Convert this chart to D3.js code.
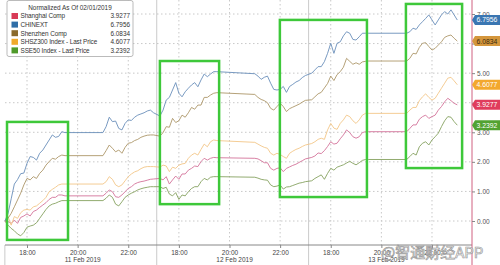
<!DOCTYPE html>
<html>
<head>
<meta charset="utf-8">
<script src="https://d3js.org/d3.v7.min.js"></script>
<style>
  body { margin: 0; background: #fff; }
  svg { display: block; font-family: "Liberation Sans", Arial, sans-serif; }
</style>
</head>
<body>
<script>
'use strict';

// series names + last values for the legend / tags
const seriesNames = ['Shanghai Comp', 'CHINEXT', 'Shenzhen Comp', 'SHSZ300 Index - Last Price', 'SSE50 Index - Last Price'];
const lastLabels = ['3.9277', '6.7956', '6.0834', '4.6077', '3.2392'];

// dates shown under the hour ticks
const days = ['11 Feb 2019', '12 Feb 2019', '13 Feb 2019'];
const tickHours = [18, 20, 22];
const yTicks = [0, 1, 2, 3, 4, 5, 6, 7];

// values: prev close, then per day 19 morning points + 17 afternoon points (7.5 min steps)
const shanghai = [0,
  -0.02, -0.08, 0.03, -0.08, 0.12, 0.17, 0.24, 0.17, 0.32, 0.37, 0.46, 0.54, 0.62, 0.73, 0.80, 0.80, 0.88, 0.88, 0.85,
  0.85, 0.94, 1.05, 0.99, 0.82, 0.80, 0.88, 0.99, 1.10, 1.16, 1.25, 1.30, 1.33, 1.35, 1.38, 1.41, 1.42,
  1.44, 1.39, 1.50, 1.25, 1.39, 1.52, 1.41, 1.59, 1.59, 1.72, 1.78, 1.86, 1.84, 2.01, 2.12, 2.06, 2.12, 2.15, 2.14,
  2.12, 2.10, 2.04, 1.97, 1.97, 1.78, 1.72, 1.78, 1.80, 1.67, 1.78, 1.83, 1.88, 1.92, 1.98, 2.04, 2.10,
  2.15, 2.20, 2.30, 2.28, 2.38, 2.52, 2.68, 2.60, 2.63, 2.78, 2.91, 3.08, 2.99, 2.85, 2.80, 2.85, 2.99, 3.02, 3.02,
  3.02, 3.13, 3.25, 3.25, 3.44, 3.53, 3.58, 3.47, 3.53, 3.58, 3.75, 3.87, 4.03, 4.15, 4.07, 3.98, 3.9277];

const chinext = [0,
  0.25, 0.75, 1.25, 1.40, 1.60, 1.62, 1.95, 2.18, 2.15, 2.06, 2.29, 2.40, 2.57, 2.74, 2.91, 2.83, 2.86, 3.02, 2.99,
  2.99, 3.19, 3.51, 3.36, 3.38, 3.13, 3.08, 3.30, 3.42, 3.40, 3.51, 3.58, 3.62, 3.66, 3.72, 3.75, 3.66,
  3.55, 3.75, 4.09, 4.18, 4.43, 4.68, 4.32, 4.20, 4.37, 4.49, 4.60, 4.68, 4.54, 4.77, 4.97, 4.88, 4.97, 5.05, 5.05,
  4.98, 4.90, 4.79, 4.86, 4.90, 4.66, 4.45, 4.43, 4.45, 4.55, 4.35, 4.55, 4.62, 4.70, 4.75, 4.85, 4.92,
  5.00, 5.11, 5.22, 5.22, 5.39, 5.67, 6.01, 5.67, 6.01, 6.06, 6.26, 6.40, 6.35, 6.14, 6.12, 6.23, 6.35, 6.35, 6.35,
  6.35, 6.40, 6.52, 6.48, 6.63, 6.74, 6.85, 6.97, 6.80, 6.63, 6.80, 6.97, 7.08, 7.00, 7.14, 6.97, 6.7956];

const shenzhen = [0,
  0.09, 0.26, 0.48, 0.71, 0.94, 1.22, 1.44, 1.39, 1.50, 1.44, 1.61, 1.72, 1.89, 2.01, 2.12, 2.09, 2.18, 2.23, 2.21,
  2.21, 2.38, 2.57, 2.46, 2.34, 2.40, 2.29, 2.49, 2.63, 2.65, 2.72, 2.76, 2.83, 2.87, 2.90, 2.91, 2.91,
  2.87, 2.99, 3.19, 3.17, 3.47, 3.33, 3.39, 3.58, 3.51, 3.66, 3.84, 3.78, 3.92, 3.92, 4.18, 4.18, 4.26, 4.32, 4.34,
  4.28, 4.18, 4.11, 4.07, 4.00, 3.81, 3.75, 3.87, 3.98, 3.87, 3.70, 3.80, 3.85, 3.90, 3.95, 4.02, 4.08,
  4.10, 4.20, 4.30, 4.35, 4.50, 4.65, 4.90, 4.75, 4.95, 5.05, 5.20, 5.50, 5.40, 5.30, 5.35, 5.30, 5.38, 5.40, 5.41,
  5.41, 5.50, 5.67, 5.65, 5.87, 6.01, 6.03, 5.90, 5.78, 5.84, 5.95, 6.06, 6.21, 6.26, 6.29, 6.18, 6.0834];

const shsz300 = [0,
  0.15, -0.14, 0.15, 0.09, 0.28, 0.37, 0.39, 0.37, 0.48, 0.51, 0.60, 0.69, 0.80, 0.99, 1.07, 1.14, 1.22, 1.25, 1.25,
  1.25, 1.33, 1.50, 1.41, 1.22, 1.16, 1.22, 1.36, 1.50, 1.59, 1.66, 1.70, 1.77, 1.82, 1.84, 1.84, 1.84,
  1.82, 1.89, 1.86, 1.67, 1.82, 1.78, 1.89, 1.93, 1.95, 2.12, 2.23, 2.29, 2.23, 2.42, 2.60, 2.51, 2.68, 2.74, 2.72,
  2.66, 2.60, 2.54, 2.49, 2.46, 2.29, 2.23, 2.29, 2.25, 2.18, 2.12, 2.29, 2.36, 2.42, 2.46, 2.52, 2.57,
  2.62, 2.68, 2.76, 2.80, 2.76, 3.08, 3.30, 3.14, 3.10, 3.30, 3.42, 3.58, 3.53, 3.39, 3.30, 3.42, 3.58, 3.64, 3.64,
  3.64, 3.75, 3.84, 3.84, 4.07, 4.20, 4.30, 4.18, 4.09, 4.15, 4.32, 4.49, 4.66, 4.83, 4.86, 4.74, 4.6077];

const sse50 = [0,
  -0.14, -0.25, -0.33, -0.44, -0.50, -0.39, -0.21, -0.17, -0.14, -0.06, 0.09, 0.24, 0.39, 0.51, 0.57, 0.60, 0.65, 0.69, 0.69,
  0.69, 0.77, 0.88, 0.80, 0.57, 0.51, 0.65, 0.80, 0.88, 0.94, 0.99, 1.05, 1.09, 1.12, 1.14, 1.16, 1.16,
  1.16, 1.10, 1.14, 0.91, 0.85, 0.96, 0.73, 0.88, 0.85, 0.99, 1.10, 1.16, 1.16, 1.33, 1.44, 1.39, 1.48, 1.50, 1.50,
  1.48, 1.45, 1.41, 1.39, 1.38, 1.22, 1.16, 1.18, 1.22, 1.08, 1.15, 1.16, 1.20, 1.24, 1.28, 1.30, 1.33,
  1.36, 1.44, 1.50, 1.56, 1.41, 1.61, 1.78, 1.72, 1.82, 1.86, 1.90, 1.96, 2.02, 1.95, 1.90, 1.97, 2.05, 2.08, 2.08,
  2.08, 2.18, 2.29, 2.23, 2.51, 2.63, 2.68, 2.57, 2.74, 2.85, 2.97, 3.19, 3.39, 3.53, 3.51, 3.36, 3.2392];

// green highlight boxes in data terms: [t0, t1, vTop, vBottom]
const boxes = [
  [0.21, 2.62, 3.35, -0.64],
  [6.25, 8.59, 5.41, 0.57],
  [10.99, 14.43, 6.80, 0.81],
  [15.97, 18.19, 7.34, 1.79]
];

(function() {

  let width = 500;
  let height = 265;
  let svg = "";

  const lineColors = ['#d4739a', '#6a8fba', '#ad9669', '#f3c688', '#86a160'];
  const swatchColors = ['#d83a56', '#2f6ea8', '#8a6a2c', '#f0aa2c', '#4f9a2a'];
  const tagColors = ['#e03c5c', '#3a76b2', '#d4963c', '#f3a82e', '#52a232'];
  const tagText = ['#fff', '#fff', '#3a2a10', '#fff', '#fff'];

  window.onload = function() {
    svg = d3.select('body').append('svg')
      .attr('width', width)
      .attr('height', height);
    makeChart();
  }

  // session times -> continuous trading hours (6 per day, 17:00 = 0)
  function buildTimes() {
    let times = [0.125];
    for (let d = 0; d < 3; d++) {
      for (let i = 0; i <= 18; i++) times.push(d * 6 + 17.25 + i * 0.125 - 17);
      for (let i = 0; i <= 16; i++) times.push(d * 6 + 21 + i * 0.125 - 17);
    }
    return times;
  }

  function makeChart() {
    let times = buildTimes();
    let allSeries = [shanghai, chinext, shenzhen, shsz300, sse50];
    let xScale = d3.scaleLinear().domain([0, 18]).range([1.7, 457.3]);
    let yScale = d3.scaleLinear().domain([0, 7]).range([221, 14]);
    let axisX = 472;
    let baseY = 245;

    // horizontal dotted grid
    svg.append('g').selectAll('line')
      .data(yTicks)
      .enter().append('line')
      .attr('x1', 5).attr('x2', axisX)
      .attr('y1', d => yScale(d)).attr('y2', d => yScale(d))
      .attr('stroke', '#c8c8c8')
      .attr('stroke-dasharray', '1.5,2.5');

    // vertical dotted grid at hour ticks
    let hourTicks = [];
    for (let d = 0; d < 3; d++) {
      tickHours.forEach(h => hourTicks.push({t: d * 6 + h - 17, label: h + ':00'}));
    }
    svg.append('g').selectAll('line')
      .data(hourTicks)
      .enter().append('line')
      .attr('x1', d => xScale(d.t)).attr('x2', d => xScale(d.t))
      .attr('y1', 0).attr('y2', baseY)
      .attr('stroke', '#c8c8c8')
      .attr('stroke-dasharray', '1.5,2.5');

    // day separators (between sessions)
    let seps = [0.125, 6.125, 12.125];
    svg.append('g').selectAll('line')
      .data(seps)
      .enter().append('line')
      .attr('x1', d => xScale(d)).attr('x2', d => xScale(d))
      .attr('y1', (d, i) => i == 0 ? baseY : 0).attr('y2', height)
      .attr('stroke', '#bcbcbc')
      .attr('stroke-width', 0.8);

    // x axis baseline + tick labels
    let xAxis = d3.axisBottom(xScale)
      .tickValues(hourTicks.map(d => d.t))
      .tickFormat((d, i) => hourTicks[i].label)
      .tickSize(3)
      .tickPadding(2);
    let gx = svg.append('g')
      .attr('transform', 'translate(0,' + baseY + ')')
      .call(xAxis);
    gx.select('.domain').attr('stroke', '#888').attr('d', 'M5,0H' + axisX);
    gx.selectAll('line').attr('stroke', '#888');
    gx.selectAll('text')
      .attr('fill', '#444')
      .style('font-size', '6.5px')
      .style('font-family', '"Liberation Sans", Arial, sans-serif');

    svg.append('g').selectAll('text')
      .data(days)
      .enter().append('text')
      .attr('x', (d, i) => xScale(i * 6 + 3.2))
      .attr('y', 262)
      .attr('text-anchor', 'middle')
      .attr('fill', '#444')
      .style('font-size', '6.5px')
      .text(d => d);

    // series lines
    let line = d3.line()
      .x(d => xScale(d[0]))
      .y(d => yScale(d[1]));
    let drawOrder = [4, 0, 3, 2, 1];
    drawOrder.forEach(k => {
      let pts = allSeries[k].map((v, i) => [times[i], v]);
      svg.append('path')
        .datum(pts)
        .attr('d', line)
        .attr('fill', 'none')
        .attr('stroke', lineColors[k])
        .attr('stroke-width', 0.9)
        .attr('stroke-linejoin', 'round');
    });

    // green highlight boxes
    svg.append('g').selectAll('rect')
      .data(boxes)
      .enter().append('rect')
      .attr('x', d => xScale(d[0]))
      .attr('y', d => yScale(d[2]))
      .attr('width', d => xScale(d[1]) - xScale(d[0]))
      .attr('height', d => yScale(d[3]) - yScale(d[2]))
      .attr('fill', 'none')
      .attr('stroke', '#3ec83a')
      .attr('stroke-width', 2.5);

    // right y axis; labels sitting under a value tag are hidden like in the original
    let tagYs = allSeries.map(s => yScale(s[s.length - 1]));
    let shown = yTicks.filter(v => tagYs.every(ty => Math.abs(yScale(v) - ty) > 6));
    let yAxis = d3.axisRight(yScale)
      .tickValues(yTicks)
      .tickFormat(d => shown.includes(d) ? d3.format('.2f')(d) : '')
      .tickSize(3)
      .tickPadding(2);
    let gy = svg.append('g')
      .attr('transform', 'translate(' + axisX + ',0)')
      .call(yAxis);
    gy.select('.domain').attr('stroke', '#d06080').attr('d', 'M0,0V' + height);
    gy.selectAll('line').attr('stroke', '#888');
    gy.selectAll('text')
      .attr('fill', '#555')
      .style('font-size', '6.5px')
      .style('font-family', '"Liberation Sans", Arial, sans-serif');

    // last value tags
    let tags = svg.append('g');
    allSeries.forEach((s, k) => {
      let y = tagYs[k];
      tags.append('path')
        .attr('d', 'M' + axisX + ',' + y + 'L' + (axisX + 3) + ',' + (y - 5) + 'H' + 500 + 'V' + (y + 5) + 'H' + (axisX + 3) + 'Z')
        .attr('fill', tagColors[k]);
      tags.append('text')
        .attr('x', axisX + 4.5)
        .attr('y', y + 2.4)
        .attr('fill', tagText[k])
        .style('font-size', '6.8px')
        .text(lastLabels[k]);
    });

    makeLegend();

    // watermark
    svg.append('text')
      .attr('x', 381)
      .attr('y', 258)
      .attr('fill', '#fff')
      .attr('fill-opacity', 0.7)
      .attr('stroke', '#9a9a9a')
      .attr('stroke-width', 0.7)
      .style('font-family', '"Noto Sans CJK SC", sans-serif')
      .style('font-size', '15px')
      .text('@智通财经APP');
  }

  function makeLegend() {
    let g = svg.append('g');
    g.append('rect')
      .attr('x', 7).attr('y', 0.5)
      .attr('width', 126).attr('height', 56)
      .attr('rx', 2)
      .attr('fill', '#fff')
      .attr('stroke', '#aaa')
      .attr('stroke-width', 0.8);
    g.append('text')
      .attr('x', 70).attr('y', 9.5)
      .attr('text-anchor', 'middle')
      .attr('fill', '#333')
      .style('font-size', '6.4px')
      .text('Normalized As Of 02/01/2019');
    seriesNames.forEach((name, i) => {
      let y = 16 + i * 8.6;
      g.append('rect')
        .attr('x', 11.5).attr('y', y - 3)
        .attr('width', 6.5).attr('height', 6)
        .attr('fill', swatchColors[i]);
      g.append('text')
        .attr('x', 20.5).attr('y', y + 2.3)
        .attr('fill', '#333')
        .style('font-size', '6.4px')
        .style('letter-spacing', '-0.1px')
        .text(name);
      g.append('text')
        .attr('x', 130).attr('y', y + 2.3)
        .attr('text-anchor', 'end')
        .attr('fill', '#333')
        .style('font-size', '6.4px')
        .text(lastLabels[i]);
    });
  }

})();
</script>
</body>
</html>
